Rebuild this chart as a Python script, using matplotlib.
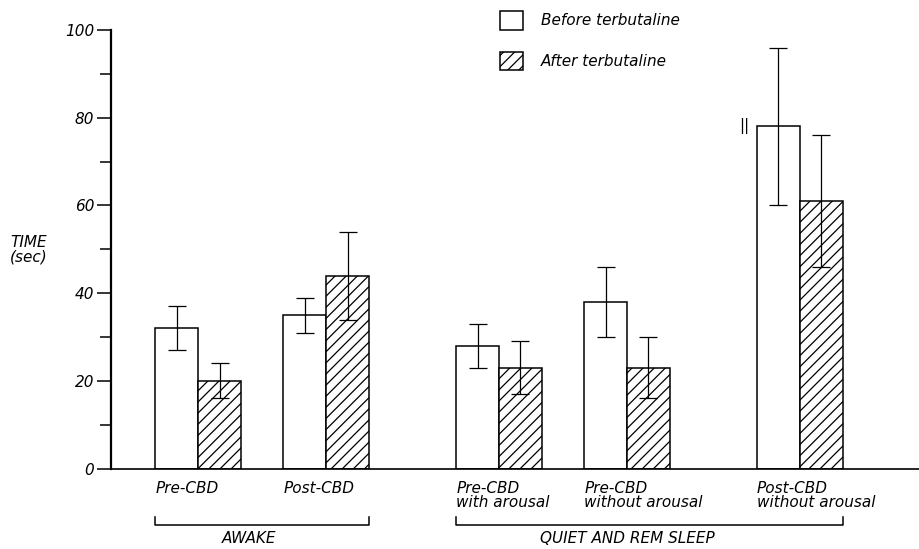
import numpy as np
import matplotlib
matplotlib.use("Agg")
import matplotlib.pyplot as plt
from matplotlib.patches import Patch

# data
groups = ["Pre-CBD", "Post-CBD", "Pre-CBD\nwith arousal",
          "Pre-CBD\nwithout arousal", "Post-CBD\nwithout arousal"]
before = [32, 35, 28, 38, 78]
before_lo = [27, 31, 23, 30, 60]
before_hi = [37, 39, 33, 46, 96]
after = [20, 44, 23, 23, 61]
after_lo = [16, 34, 17, 16, 46]
after_hi = [24, 54, 29, 30, 76]
states = ["AWAKE", "QUIET AND REM SLEEP"]
yticks = [0, 20, 40, 60, 80, 100]

plt.rcParams['font.family'] = 'DejaVu Sans'
plt.rcParams['font.style'] = 'italic'
plt.rcParams['hatch.linewidth'] = 0.9

pos = np.array([0, 1, 2.35, 3.35, 4.7])
w = 0.335

fig = plt.figure(figsize=(9.19, 5.49), dpi=100)
ax = fig.add_axes([0.1208, 0.1463, 0.8792, 0.7991])

before = np.array(before); after = np.array(after)
yerr_b = [before - np.array(before_lo), np.array(before_hi) - before]
yerr_a = [after - np.array(after_lo), np.array(after_hi) - after]
ekw = dict(ecolor='black', elinewidth=0.9, capsize=6.5, capthick=0.9)

ax.bar(pos - w/2, before, w, color='white', edgecolor='black', linewidth=1.1,
       yerr=yerr_b, error_kw=ekw)
ax.bar(pos + w/2, after, w, color='white', edgecolor='black', linewidth=1.1,
       hatch='///', yerr=yerr_a, error_kw=ekw)

# significance mark
ax.text(pos[4] - w - 0.06, before[4], "||", ha='right', va='center', fontsize=11,
        fontstyle='normal')

ax.set_xlim(-0.68, 5.63)
ax.set_ylim(0, 100)
ax.spines['top'].set_visible(False)
ax.spines['right'].set_visible(False)
ax.spines['left'].set_linewidth(1.6)
ax.spines['bottom'].set_linewidth(1.2)
ax.set_xticks([])
ax.set_yticks(yticks)
ax.set_yticks(range(10, 100, 20), minor=True)
ax.tick_params(axis='y', which='major', length=10, width=1.1, labelsize=11, pad=2)
ax.tick_params(axis='y', which='minor', length=8, width=1.1)
for t in ax.get_yticklabels():
    t.set_fontstyle('italic')

fig.text(0.011, 0.545, "TIME\n(sec)", fontsize=11, ha='left', va='center',
         linespacing=1.0)

# category labels, left-aligned at the left edge of each pair
for p, g in zip(pos, groups):
    ax.text(p - w, -2.8, g, ha='left', va='top', fontsize=11, linespacing=0.95,
            clip_on=False)

# brackets
spans = [(pos[0] - w, pos[1] + w), (pos[2] - w, pos[4] + w)]
for (x0, x1), s in zip(spans, states):
    ax.plot([x0, x0, x1, x1], [-10.9, -12.9, -12.9, -10.9], color='black',
            lw=1.1, clip_on=False)
    ax.text((x0 + x1) / 2 - (0.17 if s != "AWAKE" else 0.1), -14.3, s, ha='center',
            va='top', fontsize=11, clip_on=False)

handles = [Patch(facecolor='white', edgecolor='black', linewidth=1.1),
           Patch(facecolor='white', edgecolor='black', linewidth=1.1, hatch='///')]
fig.legend(handles, ["Before terbutaline", "After terbutaline"],
           loc='upper left', bbox_to_anchor=(0.527, 1.008), frameon=False,
           fontsize=11, handlelength=1.5, handleheight=1.5,
           handletextpad=1.2, labelspacing=1.45, borderpad=0.5)

fig.savefig("out.png", dpi=100)
